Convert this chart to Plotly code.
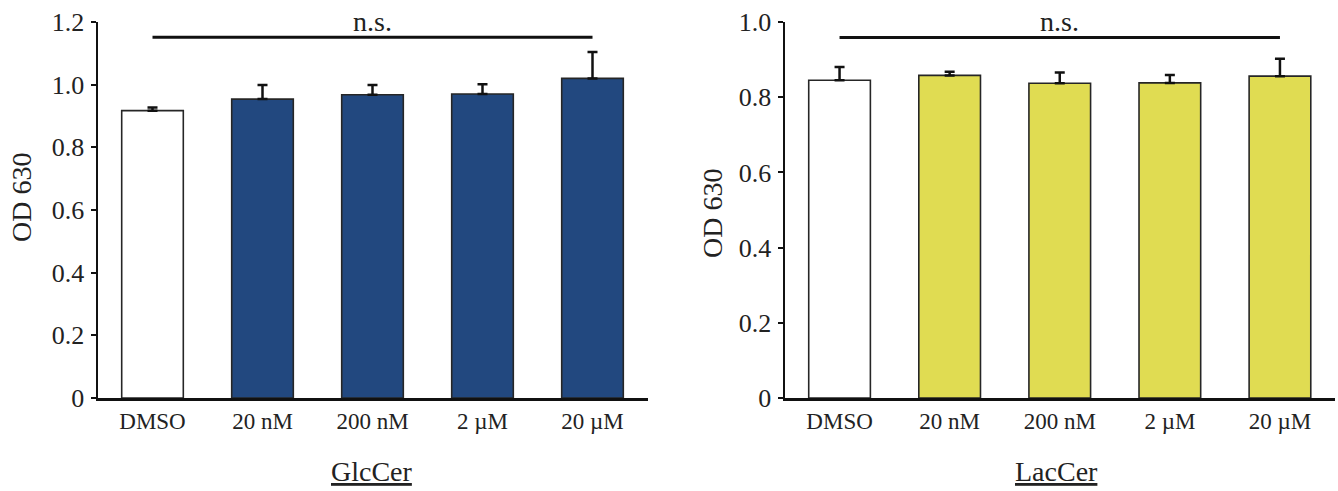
import plotly.graph_objects as go
from plotly.subplots import make_subplots

categories = ["DMSO", "20 nM", "200 nM", "2 µM", "20 µM"]

glc_values = [0.917, 0.954, 0.968, 0.970, 1.020]
glc_err = [0.010, 0.045, 0.031, 0.031, 0.084]
glc_colors = ["#ffffff", "#22487f", "#22487f", "#22487f", "#22487f"]

lac_values = [0.845, 0.858, 0.837, 0.838, 0.856]
lac_err = [0.035, 0.010, 0.029, 0.021, 0.046]
lac_colors = ["#ffffff", "#e0dc52", "#e0dc52", "#e0dc52", "#e0dc52"]

glc_ticks = [0, 0.2, 0.4, 0.6, 0.8, 1.0, 1.2]
glc_ticktext = ["0", "0.2", "0.4", "0.6", "0.8", "1.0", "1.2"]
lac_ticks = [0, 0.2, 0.4, 0.6, 0.8, 1.0]
lac_ticktext = ["0", "0.2", "0.4", "0.6", "0.8", "1.0"]

glc_ns_y = 1.151
lac_ns_y = 0.959

FONT = "Liberation Serif"
TXT = "#222222"
W, H = 1338, 491

fig = make_subplots(rows=1, cols=2)

for col, vals, errs, colors in [(1, glc_values, glc_err, glc_colors),
                                (2, lac_values, lac_err, lac_colors)]:
    fig.add_trace(go.Bar(
        x=categories, y=vals, width=0.56,
        marker=dict(color=colors, line=dict(color="#262626", width=1.6)),
        error_y=dict(type="data", symmetric=False, array=errs,
                     arrayminus=[0] * len(errs), color="#111111",
                     thickness=2.5, width=5),
        showlegend=False,
    ), row=1, col=col)

# significance brackets
for xref, yref, y_line in [("x", "y", glc_ns_y), ("x2", "y2", lac_ns_y)]:
    fig.add_shape(type="line", xref=xref, yref=yref,
                  x0=categories[0], x1=categories[-1], y0=y_line, y1=y_line,
                  line=dict(color="#111111", width=3))
    fig.add_annotation(xref=xref, yref="paper", x=categories[2],
                       y=(H - 37) / H, yanchor="bottom", yshift=-2,
                       text="n.s.", showarrow=False,
                       font=dict(family=FONT, size=28, color=TXT))

# axis titles
for x_px, y_px in [(22, 198), (712, 214)]:
    fig.add_annotation(xref="paper", yref="paper", x=x_px / W, y=(H - y_px) / H,
                       text="OD 630", textangle=-90, showarrow=False,
                       xanchor="center", yanchor="middle",
                       font=dict(family=FONT, size=28, color=TXT))
for x_px, label in [(372, "GlcCer"), (1056, "LacCer")]:
    fig.add_annotation(xref="paper", yref="paper", x=x_px / W, y=(H - 471) / H,
                       text="<u>" + label + "</u>", showarrow=False,
                       xanchor="center", yanchor="middle",
                       font=dict(family=FONT, size=28, color=TXT))

y0 = (H - 398) / H
y1 = (H - 22) / H

common_x = dict(showline=True, linecolor="#111111", linewidth=2.5,
                ticks="", showgrid=False, zeroline=False, automargin=False,
                tickfont=dict(family=FONT, size=23, color=TXT),
                ticklabelstandoff=1,
                range=[-0.5, 4.5])
common_y = dict(showline=True, linecolor="#111111", linewidth=2,
                ticks="outside", ticklen=5, tickwidth=2, tickcolor="#111111",
                showgrid=False, zeroline=False, automargin=False,
                ticklabelstandoff=1,
                tickfont=dict(family=FONT, size=26, color=TXT))

fig.update_layout(
    width=W, height=H,
    margin=dict(l=0, r=0, t=0, b=0),
    plot_bgcolor="white", paper_bgcolor="white",
    font=dict(family=FONT),
    xaxis=dict(**common_x, domain=[97.5 / W, 647.5 / W]),
    xaxis2=dict(**common_x, domain=[784.5 / W, 1335 / W]),
    yaxis=dict(**common_y, domain=[y0, y1], range=[0, 1.2],
               tickvals=glc_ticks, ticktext=glc_ticktext),
    yaxis2=dict(**common_y, domain=[y0, y1], range=[0, 1.0],
                tickvals=lac_ticks, ticktext=lac_ticktext),
)

fig.write_html("out.html")
